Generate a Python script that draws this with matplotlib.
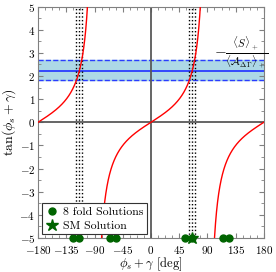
import numpy as np
import matplotlib
matplotlib.use("Agg")
import matplotlib.pyplot as plt
from matplotlib.ticker import MultipleLocator

plt.rcParams["font.family"] = "serif"
plt.rcParams["font.serif"] = ["cmr10", "DejaVu Serif"]
plt.rcParams["mathtext.fontset"] = "cm"
plt.rcParams["axes.formatter.use_mathtext"] = True

# measured ratio and its band
ratio_central = 2.2
ratio_low = 1.81
ratio_high = 2.68

# solutions (deg)
eightfold_x = [-124.5, -114.4, -65.6, -55.0, 55.0, 65.6, 114.4, 125.0]
sm_x = [65.6]

x_ticks = [-180, -135, -90, -45, 0, 45, 90, 135, 180]
y_ticks = [-5, -4, -3, -2, -1, 0, 1, 2, 3, 4, 5]

fig = plt.figure(figsize=(2.76, 2.72), dpi=100)
ax = fig.add_axes([0.138, 0.125, 0.818, 0.851])

# tan curve, broken at the asymptotes
phi = np.linspace(-180, 180, 3601)
t = np.tan(np.radians(phi))
t[np.abs(t) > 50] = np.nan
ax.plot(phi, t, color="red", lw=1.0, zorder=3)

# band
ax.axhspan(ratio_low, ratio_high, color="lightblue", zorder=1)
ax.axhline(ratio_central, color="#2a3cff", lw=1.3, zorder=2)
for v in (ratio_low, ratio_high):
    ax.axhline(v, color="#2a3cff", lw=1.0, ls="--", zorder=2)

# vertical dotted lines at band intersections
for v in (ratio_low, ratio_central, ratio_high):
    a = np.degrees(np.arctan(v))
    for xv in (a, a - 180):
        ax.axvline(xv, color="black", lw=1.0, ls=":", zorder=2)

ax.axhline(0, color="0.35", lw=1.3, zorder=2)
ax.axvline(0, color="0.35", lw=1.3, zorder=2)

ax.plot(eightfold_x, [-5] * len(eightfold_x), "o", color="darkgreen",
        ms=5, ls="none", clip_on=False, zorder=5, label="8 fold Solutions")
ax.plot(sm_x, [-5] * len(sm_x), "*", color="darkgreen",
        ms=9, ls="none", clip_on=False, zorder=6, label="SM Solution")

ax.text(143, 3.0,
        r"$-\frac{\langle S\rangle_+}{\langle \mathcal{A}_{\Delta\Gamma}\rangle_+}$",
        ha="center", va="center", fontsize=11)

ax.set_xlim(-180, 180)
ax.set_ylim(-5, 5)
ax.set_xticks(x_ticks)
ax.set_yticks(y_ticks)
ax.xaxis.set_minor_locator(MultipleLocator(11.25))
ax.yaxis.set_minor_locator(MultipleLocator(0.5))
ax.tick_params(which="both", direction="in", top=True, right=True,
               color="0.5", labelsize=8, pad=2)
ax.tick_params(axis="x", pad=4)
ax.tick_params(which="major", length=3.5)
ax.tick_params(which="minor", length=2)
for s in ax.spines.values():
    s.set_color("0.5")

ax.set_xlabel(r"$\phi_s + \gamma$ [deg]", fontsize=9, labelpad=0)
ax.set_ylabel(r"$\tan(\phi_s + \gamma)$", fontsize=10, labelpad=1)

leg = ax.legend(loc="lower left", fontsize=8.5, fancybox=False,
                edgecolor="0.2", framealpha=1, borderaxespad=0.3,
                handletextpad=0.3, borderpad=0.3, labelspacing=0.3,
                handlelength=1.2)
leg.get_frame().set_linewidth(0.8)

fig.savefig("out.png", dpi=100)
